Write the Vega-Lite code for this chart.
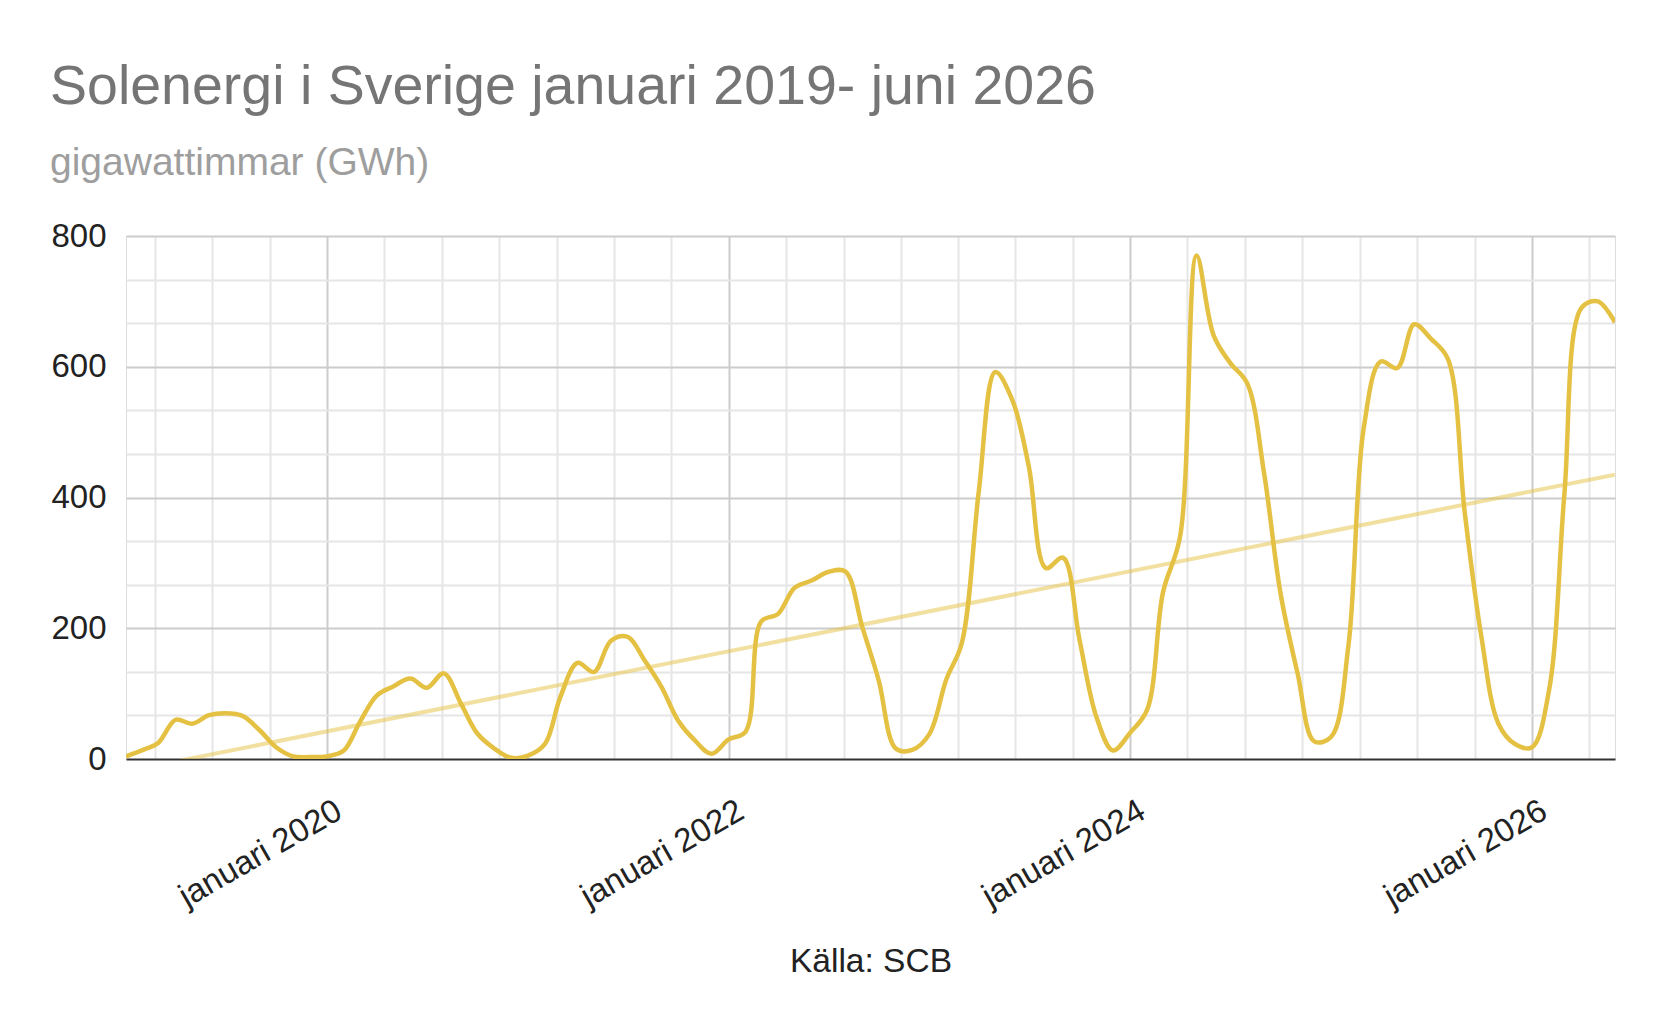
{
  "$schema": "https://vega.github.io/schema/vega-lite/v6.json",
  "width": 1489,
  "height": 523,
  "autosize": {"type": "none"},
  "padding": {"left": 126, "top": 236, "right": 51, "bottom": 271},
  "background": "white",
  "title": {
    "text": "Solenergi i Sverige januari 2019- juni 2026",
    "subtitle": "gigawattimmar (GWh)",
    "anchor": "start",
    "frame": "group",
    "dx": -76,
    "offset": 37,
    "font": "Liberation Sans",
    "fontSize": 55.5,
    "fontWeight": "normal",
    "color": "#757575",
    "subtitleFont": "Liberation Sans",
    "subtitleFontSize": 39,
    "subtitleColor": "#9e9e9e",
    "subtitlePadding": 29
  },
  "data": {
    "format": {"parse": {"date": "utc:'%Y-%m-%d'"}},
    "values": [
      {"date": "2019-01-01", "gwh": 4}, {"date": "2019-02-01", "gwh": 14}, {"date": "2019-03-01", "gwh": 25},
      {"date": "2019-04-01", "gwh": 60}, {"date": "2019-05-01", "gwh": 54}, {"date": "2019-06-01", "gwh": 67},
      {"date": "2019-07-01", "gwh": 70}, {"date": "2019-08-01", "gwh": 66}, {"date": "2019-09-01", "gwh": 44},
      {"date": "2019-10-01", "gwh": 18}, {"date": "2019-11-01", "gwh": 4}, {"date": "2019-12-01", "gwh": 3},
      {"date": "2020-01-01", "gwh": 4}, {"date": "2020-02-01", "gwh": 13}, {"date": "2020-03-01", "gwh": 56},
      {"date": "2020-04-01", "gwh": 97}, {"date": "2020-05-01", "gwh": 111}, {"date": "2020-06-01", "gwh": 123},
      {"date": "2020-07-01", "gwh": 109}, {"date": "2020-08-01", "gwh": 131}, {"date": "2020-09-01", "gwh": 85},
      {"date": "2020-10-01", "gwh": 39}, {"date": "2020-11-01", "gwh": 16}, {"date": "2020-12-01", "gwh": 2},
      {"date": "2021-01-01", "gwh": 5}, {"date": "2021-02-01", "gwh": 23}, {"date": "2021-03-01", "gwh": 95},
      {"date": "2021-04-01", "gwh": 147}, {"date": "2021-05-01", "gwh": 133}, {"date": "2021-06-01", "gwh": 181},
      {"date": "2021-07-01", "gwh": 187}, {"date": "2021-08-01", "gwh": 151}, {"date": "2021-09-01", "gwh": 110},
      {"date": "2021-10-01", "gwh": 59}, {"date": "2021-11-01", "gwh": 28}, {"date": "2021-12-01", "gwh": 8},
      {"date": "2022-01-01", "gwh": 30}, {"date": "2022-02-01", "gwh": 42}, {"date": "2022-03-01", "gwh": 210},
      {"date": "2022-04-01", "gwh": 222}, {"date": "2022-05-01", "gwh": 262}, {"date": "2022-06-01", "gwh": 273},
      {"date": "2022-07-01", "gwh": 286}, {"date": "2022-08-01", "gwh": 287}, {"date": "2022-09-01", "gwh": 202},
      {"date": "2022-10-01", "gwh": 120}, {"date": "2022-11-01", "gwh": 16}, {"date": "2022-12-01", "gwh": 14},
      {"date": "2023-01-01", "gwh": 38}, {"date": "2023-02-01", "gwh": 122}, {"date": "2023-03-01", "gwh": 177},
      {"date": "2023-04-01", "gwh": 410}, {"date": "2023-05-01", "gwh": 592}, {"date": "2023-06-01", "gwh": 549},
      {"date": "2023-07-01", "gwh": 447}, {"date": "2023-08-01", "gwh": 292}, {"date": "2023-09-01", "gwh": 308},
      {"date": "2023-10-01", "gwh": 183}, {"date": "2023-11-01", "gwh": 64}, {"date": "2023-12-01", "gwh": 13},
      {"date": "2024-01-01", "gwh": 40}, {"date": "2024-02-01", "gwh": 75}, {"date": "2024-03-01", "gwh": 255},
      {"date": "2024-04-01", "gwh": 340}, {"date": "2024-05-01", "gwh": 770}, {"date": "2024-06-01", "gwh": 648},
      {"date": "2024-07-01", "gwh": 606}, {"date": "2024-08-01", "gwh": 575}, {"date": "2024-09-01", "gwh": 436},
      {"date": "2024-10-01", "gwh": 252}, {"date": "2024-11-01", "gwh": 130}, {"date": "2024-12-01", "gwh": 27},
      {"date": "2025-01-01", "gwh": 34}, {"date": "2025-02-01", "gwh": 172}, {"date": "2025-03-01", "gwh": 506},
      {"date": "2025-04-01", "gwh": 608}, {"date": "2025-05-01", "gwh": 598}, {"date": "2025-06-01", "gwh": 665},
      {"date": "2025-07-01", "gwh": 643}, {"date": "2025-08-01", "gwh": 612}, {"date": "2025-09-01", "gwh": 375},
      {"date": "2025-10-01", "gwh": 187}, {"date": "2025-11-01", "gwh": 54}, {"date": "2025-12-01", "gwh": 23},
      {"date": "2026-01-01", "gwh": 18}, {"date": "2026-02-01", "gwh": 105}, {"date": "2026-03-01", "gwh": 406},
      {"date": "2026-04-01", "gwh": 690}, {"date": "2026-05-01", "gwh": 700}, {"date": "2026-06-01", "gwh": 668}
    ]
  },
  "layer": [
    {
      "transform": [{"regression": "gwh", "on": "date"}],
      "mark": {"type": "line", "color": "#e5c143", "opacity": 0.5, "strokeWidth": 4, "clip": true},
      "encoding": {
        "x": {
          "field": "date",
          "type": "temporal",
          "scale": {
            "type": "utc",
            "domain": [
              {"year": 2019, "month": 1, "date": 1, "utc": true},
              {"year": 2026, "month": 6, "date": 1, "utc": true}
            ]
          },
          "axis": {
            "orient": "bottom",
            "values": [
              {"year": 2019, "month": 2, "date": 22, "utc": true},
              {"year": 2019, "month": 6, "date": 6, "utc": true},
              {"year": 2019, "month": 9, "date": 20, "utc": true},
              {"year": 2020, "month": 4, "date": 14, "utc": true},
              {"year": 2020, "month": 7, "date": 28, "utc": true},
              {"year": 2020, "month": 11, "date": 9, "utc": true},
              {"year": 2021, "month": 2, "date": 22, "utc": true},
              {"year": 2021, "month": 6, "date": 6, "utc": true},
              {"year": 2021, "month": 9, "date": 19, "utc": true},
              {"year": 2022, "month": 4, "date": 15, "utc": true},
              {"year": 2022, "month": 7, "date": 29, "utc": true},
              {"year": 2022, "month": 11, "date": 10, "utc": true},
              {"year": 2023, "month": 2, "date": 22, "utc": true},
              {"year": 2023, "month": 6, "date": 6, "utc": true},
              {"year": 2023, "month": 9, "date": 19, "utc": true},
              {"year": 2024, "month": 4, "date": 14, "utc": true},
              {"year": 2024, "month": 7, "date": 28, "utc": true},
              {"year": 2024, "month": 11, "date": 9, "utc": true},
              {"year": 2025, "month": 2, "date": 22, "utc": true},
              {"year": 2025, "month": 6, "date": 6, "utc": true},
              {"year": 2025, "month": 9, "date": 19, "utc": true},
              {"year": 2026, "month": 4, "date": 15, "utc": true}
            ],
            "labels": false,
            "ticks": false,
            "tickSize": 0,
            "domain": false,
            "grid": true,
            "gridColor": "#e6e6e6",
            "gridWidth": 2,
            "title": null
          }
        },
        "y": {
          "field": "gwh",
          "type": "quantitative",
          "scale": {"domain": [0, 800], "nice": false, "zero": true},
          "axis": {
            "orient": "left",
            "values": [66.667, 133.333, 266.667, 333.333, 466.667, 533.333, 666.667, 733.333],
            "labels": false,
            "ticks": false,
            "tickSize": 0,
            "domain": false,
            "grid": true,
            "gridColor": "#e6e6e6",
            "gridWidth": 2,
            "title": null
          }
        }
      }
    },
    {
      "mark": {"type": "line", "color": "#e5c143", "strokeWidth": 4.5, "interpolate": "catmull-rom", "clip": true},
      "encoding": {
        "x": {
          "field": "date",
          "type": "temporal",
          "axis": {
            "orient": "bottom",
            "values": [
              {"year": 2020, "month": 1, "date": 1, "utc": true},
              {"year": 2022, "month": 1, "date": 1, "utc": true},
              {"year": 2024, "month": 1, "date": 1, "utc": true},
              {"year": 2026, "month": 1, "date": 1, "utc": true}
            ],
            "labelExpr": "'januari ' + utcFormat(datum.value, '%Y')",
            "labelAngle": -30,
            "labelAlign": "right",
            "labelBaseline": "top",
            "labelPadding": 35,
            "labelOffset": 4,
            "labelLimit": 0,
            "labelFlush": false,
            "labelOverlap": false,
            "labelFont": "Liberation Sans",
            "labelFontSize": 33,
            "labelColor": "#222222",
            "ticks": false,
            "tickSize": 0,
            "domain": false,
            "grid": true,
            "gridColor": "#cccccc",
            "gridWidth": 2,
            "title": "Källa: SCB",
            "titleFont": "Liberation Sans",
            "titleFontSize": 33.5,
            "titleFontWeight": "normal",
            "titleColor": "#222222",
            "titleBaseline": "alphabetic",
            "titleY": 212
          }
        },
        "y": {
          "field": "gwh",
          "type": "quantitative",
          "axis": {
            "orient": "left",
            "values": [0, 200, 400, 600, 800],
            "labelFont": "Liberation Sans",
            "labelFontSize": 33,
            "labelColor": "#222222",
            "labelPadding": 20,
            "ticks": false,
            "tickSize": 0,
            "domain": false,
            "grid": true,
            "gridColor": {"condition": {"test": "datum.value === 0", "value": "#333333"}, "value": "#cccccc"},
            "gridWidth": 2,
            "title": null
          }
        }
      }
    }
  ],
  "resolve": {"axis": {"x": "independent", "y": "independent"}}
}
